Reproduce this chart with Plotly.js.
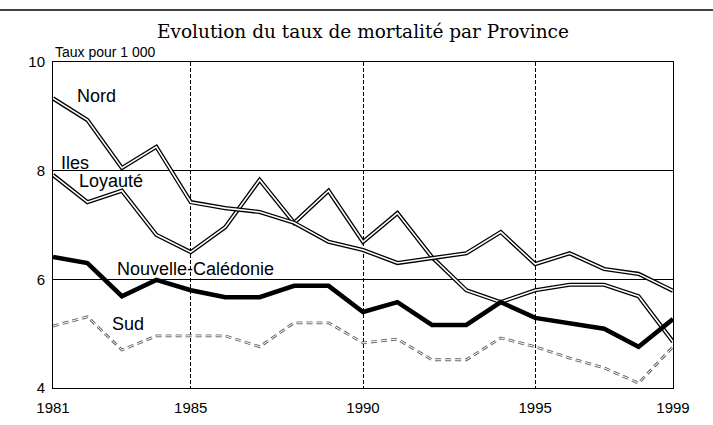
<!DOCTYPE html>
<html>
<head>
<meta charset="utf-8">
<script src="https://cdn.plot.ly/plotly-3.0.1.min.js"></script>
<style>html,body{margin:0;padding:0;background:#fff;}#chart{width:713px;height:425px;}</style>
</head>
<body>
<div id="chart"></div>
<script>
const years = [1981,1982,1983,1984,1985,1986,1987,1988,1989,1990,1991,1992,1993,1994,1995,1996,1997,1998,1999];
const nord = [9.33,8.93,8.05,8.44,7.42,7.31,7.24,7.04,6.69,6.54,6.30,6.39,6.48,6.87,6.28,6.48,6.19,6.10,5.79];
const iles = [7.92,7.42,7.63,6.82,6.50,6.96,7.83,7.04,7.63,6.69,7.22,6.41,5.80,5.58,5.80,5.90,5.90,5.69,4.85];
const nc   = [6.41,6.30,5.69,5.99,5.80,5.67,5.67,5.88,5.88,5.40,5.58,5.16,5.16,5.58,5.29,5.20,5.09,4.76,5.27];
const sud  = [5.14,5.31,4.70,4.96,4.96,4.96,4.76,5.20,5.20,4.83,4.90,4.52,4.52,4.92,4.76,4.55,4.37,4.09,4.76];
const xTicks = [1981,1985,1990,1995,1999];
const yTicks = [4,6,8,10];
const labels = ["Nord","Iles","Loyauté","Nouvelle-Calédonie","Sud"];
const labelX = [1982.26,1981.17,1982.68,1985.15,1983.18];
const labelY = [9.38,8.14,7.81,6.19,5.18];
const labelAnchor = ["center","left","center","center","center"];

function dbl(y, outer, inner, dash, col) {
  return [
    {x: years, y: y, mode: 'lines', line: {color: col || '#000', width: outer, dash: dash || 'solid'}, hoverinfo: 'skip'},
    {x: years, y: y, mode: 'lines', line: {color: '#fff', width: inner, dash: dash || 'solid'}, hoverinfo: 'skip'}
  ];
}
const traces = [].concat(
  dbl(sud, 2.8, 1.0, '6px,4px', '#666'),
  dbl(iles, 4.2, 1.6),
  dbl(nord, 4.2, 1.6),
  [{x: years, y: nc, mode: 'lines', line: {color: '#000', width: 4.5}, hoverinfo: 'skip'}]
);

const annotations = labels.map((t, i) => ({
  x: labelX[i], y: labelY[i], xref: 'x', yref: 'y', text: t, showarrow: false,
  xanchor: labelAnchor[i], yanchor: 'middle',
  font: {family: 'Liberation Sans, Arial, sans-serif', size: 18, color: '#000'}
}));
annotations.push({
  x: 0, y: 1.0, xref: 'paper', yref: 'paper', xanchor: 'left', yanchor: 'bottom',
  text: 'Taux pour 1 000', showarrow: false,
  font: {family: 'Liberation Sans Narrow, Arial Narrow, Liberation Sans, sans-serif', size: 14, color: '#000'}
});

const layout = {
  width: 713, height: 425,
  margin: {l: 53, r: 40, t: 62, b: 37},
  paper_bgcolor: '#fff', plot_bgcolor: '#fff',
  showlegend: false,
  title: {text: 'Evolution du taux de mortalité par Province', x: 0.509, xanchor: 'center', y: 0.925, yanchor: 'middle',
          font: {family: 'DejaVu Serif, Liberation Serif, serif', size: 18.5, color: '#000'}},
  xaxis: {range: [1981, 1999], tickvals: xTicks, ticktext: xTicks.map(String), showgrid: true, gridcolor: '#000', gridwidth: 1, griddash: '4px,2px',
          showline: true, linecolor: '#000', linewidth: 1, mirror: true, ticks: '', zeroline: false, ticklabelstandoff: 6,
          tickfont: {family: 'Liberation Sans, Arial, sans-serif', size: 15, color: '#000'}},
  yaxis: {range: [4, 10], tickvals: yTicks, showgrid: true, gridcolor: '#000', gridwidth: 1,
          showline: true, linecolor: '#000', linewidth: 1, mirror: true, ticks: '', zeroline: false, ticklabelstandoff: 4,
          tickfont: {family: 'Liberation Sans, Arial, sans-serif', size: 15, color: '#000'}},
  shapes: [{type: 'line', xref: 'paper', yref: 'paper', x0: -0.0855, x1: 1.0645, y0: 1.1595, y1: 1.1595, line: {color: '#000', width: 1.5}}],
  annotations: annotations
};
Plotly.newPlot('chart', traces, layout, {staticPlot: true, displayModeBar: false});
</script>
</body>
</html>
